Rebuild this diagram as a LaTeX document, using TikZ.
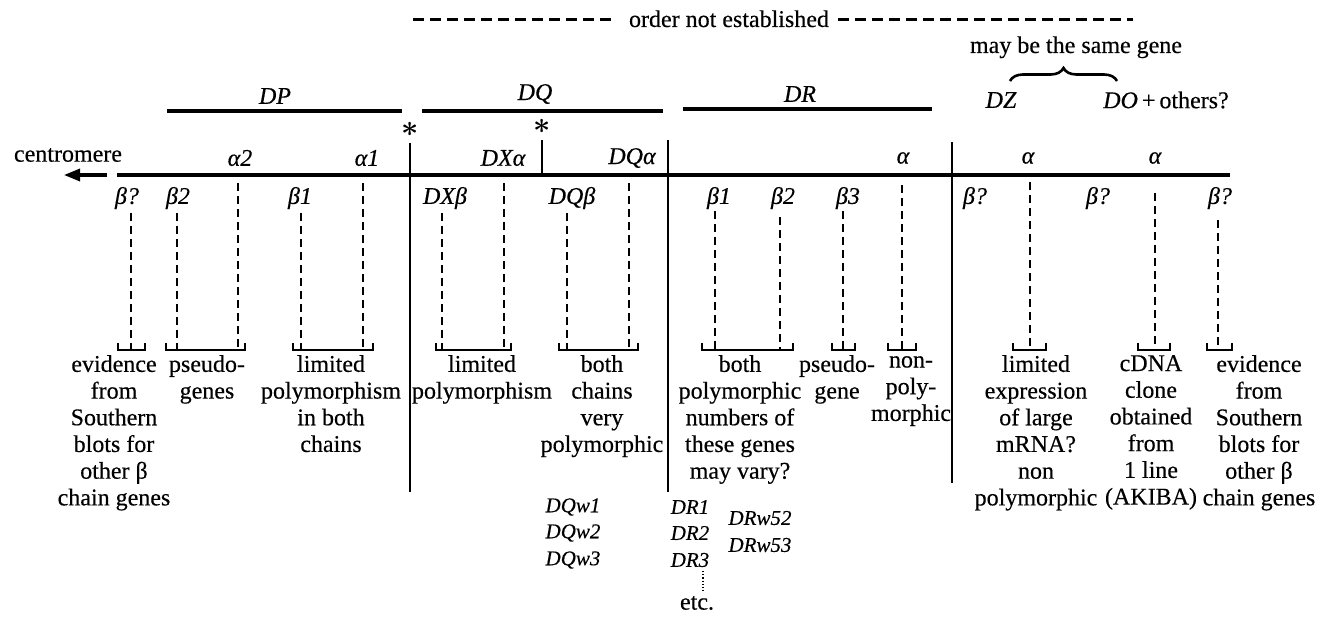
\documentclass[tikz,border=0pt]{standalone}
\usepackage{fontspec}
\setmainfont{Liberation Serif}[FakeBold=0.35]
\usetikzlibrary{arrows.meta,decorations.pathreplacing}

\tikzset{
  txt/.style={font=\fontsize{24}{26.7}\selectfont, inner sep=0pt},
  lbl/.style={font=\fontsize{24}{26}\selectfont\itshape, inner sep=0pt},
  allele/.style={font=\fontsize{21}{26}\selectfont\itshape, inner sep=0pt},
  note/.style={txt, align=center, anchor=north, execute at begin node=\strut},
  star/.style={inner sep=0pt},
  topdash/.style={line width=3pt, dash pattern=on 11pt off 6pt},
  chrom/.style={line width=3.2pt},
  region/.style={line width=4.5pt},
  divider/.style={line width=2.4pt},
  probe/.style={line width=2.5pt, dash pattern=on 8pt off 5pt},
  bracketline/.style={line width=2.6pt},
  bracestyle/.style={line width=2.6pt, decorate, decoration={brace, amplitude=13pt}},
}

\newcommand\genebracket[2]{%
  \draw[bracketline] (#1,343) -- (#1,350) -- (#2,350) -- (#2,343);}
\newcommand\bigstar{\scalebox{3}{\boldmath$\ast$}}

\begin{document}
\begin{tikzpicture}[x=1pt,y=-1pt]
\useasboundingbox (0,0) rectangle (1326,618);

% order not established
\coordinate (oL) at (413,20);
\coordinate (oLe) at (614,20);
\coordinate (oRs) at (838,20);
\coordinate (oR) at (1133,20);
\node[txt, anchor=base] (ord) at (729,27) {order not established};
\draw[topdash] (oL) -- (oLe);
\draw[topdash] (oRs) -- (oR);

% DZ / DO
\node[txt, anchor=base] (same) at (1076,53) {may be the same gene};
\coordinate (bl) at (1010,81);
\coordinate (br) at (1117,81);
\draw[bracestyle] (bl) -- (br);
\node[lbl] (dz) at (1001,100) {DZ};
\node[lbl] (do) at (1166,100) {DO\,\upshape+\,others?};

% region bars
\coordinate (dpL) at (167,111); \coordinate (dpR) at (402,111);
\coordinate (dqL) at (422,111); \coordinate (dqR) at (663,111);
\coordinate (drL) at (683,109); \coordinate (drR) at (932,109);
\draw[region] (dpL) -- (dpR);
\draw[region] (dqL) -- (dqR);
\draw[region] (drL) -- (drR);
\node[lbl] (dp) at (275,96) {DP};
\node[lbl] (dq) at (535,94) {DQ};
\node[lbl] (dr) at (800,94) {DR};

% asterisks
\node[star] (s1) at (410,129) {\bigstar};
\node[star] (s2) at (542,126) {\bigstar};

% chromosome
\node[txt] (cen) at (68,155) {centromere};
\coordinate (arS) at (107,175);
\coordinate (arT) at (64,175);
\draw[chrom, -{Triangle[length=16pt,width=12pt]}] (arS) -- (arT);
\coordinate (chL) at (117,175);
\coordinate (chR) at (1230,175);
\draw[chrom] (chL) -- (chR);

% dividers
\coordinate (v1t) at (410,143); \coordinate (v1b) at (410,492);
\coordinate (v2t) at (542,140); \coordinate (v2b) at (542,175);
\coordinate (v3t) at (668,140); \coordinate (v3b) at (668,492);
\coordinate (v4t) at (952,142); \coordinate (v4b) at (952,483);
\draw[divider] (v1t) -- (v1b);
\draw[divider] (v2t) -- (v2b);
\draw[divider] (v3t) -- (v3b);
\draw[divider] (v4t) -- (v4b);

% alpha genes
\node[lbl] (a2) at (240,158) {α2};
\node[lbl] (a1) at (367,158) {α1};
\node[lbl] (dxa) at (503,158) {DXα};
\node[lbl] (dqa) at (632,158) {DQα};
\node[lbl] (dra) at (903,158) {α};
\node[lbl] (za) at (1028,158) {α};
\node[lbl] (oa) at (1155,158) {α};

% beta genes
\node[lbl] (bq1) at (127,198) {β?};
\node[lbl] (b2) at (178,198) {β2};
\node[lbl] (b1) at (300,198) {β1};
\node[lbl] (dxb) at (445,198) {DXβ};
\node[lbl] (dqb) at (572,198) {DQβ};
\node[lbl] (rb1) at (719,198) {β1};
\node[lbl] (rb2) at (783,198) {β2};
\node[lbl] (rb3) at (848,198) {β3};
\node[lbl] (bq2) at (975,198) {β?};
\node[lbl] (bq3) at (1098,198) {β?};
\node[lbl] (bq4) at (1220,198) {β?};

% probe lines down to the brackets
\foreach \x/\t [count=\i] in {131/213, 177/213, 238/183, 301/213, 363/183,
    442/213, 504/183, 567/213, 629/183, 715/211, 780/217, 843/211,
    902/185, 1030/182, 1155/193, 1218/220} {
  \coordinate (pt\i) at (\x,\t);
  \coordinate (pb\i) at (\x,349);
  \draw[probe] (pt\i) -- (pb\i);
}

% brackets
\genebracket{118}{145}
\genebracket{166}{245}
\genebracket{293}{373}
\genebracket{436}{511}
\genebracket{559}{638}
\genebracket{702}{793}
\genebracket{832}{855}
\genebracket{888}{916}
\genebracket{1013}{1046}
\genebracket{1138}{1170}
\genebracket{1207}{1232}

% notes
\node[note] (n1) at (114,355) {evidence\\from\\Southern\\blots for\\other β\\chain genes};
\node[note] (n2) at (207,355) {pseudo-\\genes};
\node[note] (n3) at (331,355) {limited\\polymorphism\\in both\\chains};
\node[note] (n4) at (482,355) {limited\\polymorphism};
\node[note] (n5) at (602,355) {both\\chains\\very\\polymorphic};
\node[note] (n6) at (740,355) {both\\polymorphic\\numbers of\\these genes\\may vary?};
\node[note] (n7) at (837,355) {pseudo-\\gene};
\node[note] (n8) at (911,356) {non-\\poly-\\morphic};
\node[note] (n9) at (1036,355) {limited\\expression\\of large\\mRNA?\\non\\polymorphic};
\node[note] (n10) at (1151,355) {cDNA\\clone\\obtained\\from\\1 line\\(AKIBA)};
\node[note] (n11) at (1259,355) {evidence\\from\\Southern\\blots for\\other β\\chain genes};

% serological specificities
\node[allele] (dqw1) at (573,507) {DQw1};
\node[allele] (dqw2) at (573,533) {DQw2};
\node[allele] (dqw3) at (573,560) {DQw3};
\node[allele] (dr1) at (690,507) {DR1};
\node[allele] (dr2) at (690,533) {DR2};
\node[allele] (dr3) at (690,560) {DR3};
\node[allele] (drw52) at (760,518) {DRw52};
\node[allele] (drw53) at (760,545) {DRw53};
\coordinate (dotT) at (703,571);
\coordinate (dotB) at (703,592);
\draw[line width=1.2pt, dotted] (dotT) -- (dotB);
\node[txt] (etc) at (697,603) {etc.};
\end{tikzpicture}
\end{document}
